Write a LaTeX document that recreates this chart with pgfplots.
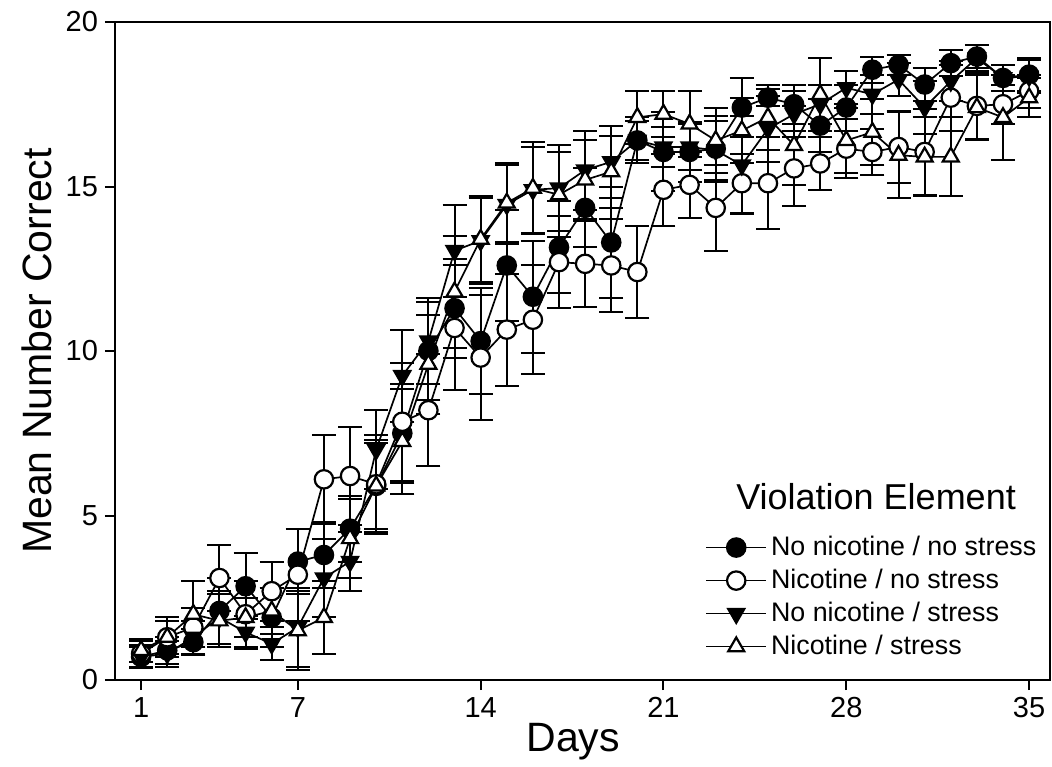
\documentclass[border=0pt]{standalone}
\usepackage{fontspec}
\setmainfont{Liberation Sans}
\usepackage{pgfplots}
\pgfplotsset{compat=1.18}
\pgfplotstableread{
d m e
1 0.7 0.35
2 0.9 0.4
3 1.15 0.4
4 2.1 1.0
5 2.85 1.0
6 1.9 0.9
7 3.6 1.0
8 3.8 1.0
9 4.6 1.0
10 5.9 1.4
11 7.5 1.5
12 10.0 1.5
13 11.3 1.5
14 10.3 1.6
15 12.6 1.7
16 11.65 1.7
17 13.15 1.4
18 14.35 1.2
19 13.3 1.7
20 16.4 0.7
21 16.05 1.2
22 16.05 0.9
23 16.15 1.0
24 17.4 0.9
25 17.7 0.25
26 17.5 0.6
27 16.85 0.8
28 17.4 0.7
29 18.55 0.4
30 18.7 0.3
31 18.1 0.5
32 18.75 0.4
33 18.95 0.35
34 18.3 0.4
35 18.4 0.5
}\tA
\pgfplotstableread{
d m e
1 0.8 0.4
2 1.3 0.6
3 1.6 0.6
4 3.1 1.0
5 2.0 1.0
6 2.7 0.9
7 3.2 1.4
8 6.1 1.35
9 6.2 1.5
10 5.95 1.5
11 7.85 1.8
12 8.2 1.7
13 10.7 1.9
14 9.8 1.9
15 10.65 1.7
16 10.95 1.65
17 12.7 1.4
18 12.65 1.3
19 12.6 1.4
20 12.4 1.4
21 14.9 1.1
22 15.05 1.0
23 14.35 1.3
24 15.1 0.9
25 15.1 1.4
26 15.55 1.15
27 15.7 0.8
28 16.15 0.9
29 16.05 0.7
30 16.2 1.1
31 16.05 1.3
32 17.7 1.0
33 17.45 1.0
34 17.5 0.6
35 17.9 0.5
}\tB
\pgfplotstableread{
d m e
1 0.7 0.3
2 0.8 0.4
3 1.3 0.5
4 1.9 0.8
5 1.45 0.5
6 1.1 0.5
7 1.6 1.2
8 3.1 1.2
9 3.6 0.9
10 7.0 1.2
11 9.25 1.4
12 10.3 1.3
13 13.05 1.4
14 13.35 1.3
15 14.45 1.2
16 14.9 1.3
17 14.95 1.3
18 15.5 1.2
19 15.75 1.1
20 16.4 0.6
21 16.2 0.6
22 16.2 0.7
23 16.1 0.9
24 15.65 1.5
25 16.75 1.0
26 17.2 0.7
27 17.5 0.6
28 18.0 0.5
29 17.8 0.6
30 18.25 0.5
31 17.4 0.8
32 18.2 0.6
33 18.9 0.4
34 18.3 0.4
35 18.35 0.5
}\tC
\pgfplotstableread{
d m e
1 0.9 0.35
2 1.3 0.5
3 2.0 1.0
4 1.8 0.8
5 1.9 0.6
6 2.1 0.7
7 1.5 1.2
8 1.9 1.1
9 4.3 1.2
10 5.9 1.3
11 7.25 1.6
12 9.6 1.5
13 11.8 1.7
14 13.4 1.3
15 14.5 1.2
16 14.95 1.4
17 14.75 1.3
18 15.2 1.2
19 15.45 1.1
20 17.1 0.8
21 17.2 0.7
22 16.9 1.0
23 16.4 1.0
24 16.7 1.0
25 17.1 1.0
26 16.25 1.2
27 17.8 1.1
28 16.4 1.0
29 16.65 1.0
30 15.95 1.3
31 15.9 1.2
32 15.9 1.2
33 17.4 1.0
34 17.1 1.3
35 17.7 0.6
}\tD
\begin{document}
\begin{tikzpicture}
\begin{axis}[name=ax, scale only axis, width=467.5pt, height=329pt,
  xmin=0, xmax=35.8, ymin=0, ymax=20,
  xtick={1,7,14,21,28,35}, ytick={0,5,10,15,20},
  tick align=outside, tick pos=left, major tick length=5pt,
  axis line style={line width=1pt},
  every tick/.style={black, line width=1pt},
  /pgf/number format/assume math mode=true,
  ticklabel style={font=\fontsize{14.5}{16}\selectfont},
  xlabel={Days}, ylabel={Mean Number Correct},
  label style={font=\fontsize{20.5}{24}\selectfont},
  xlabel style={at={(axis description cs:0.49,-0.0942)}, anchor=center},
  ylabel style={at={(axis description cs:-0.0834,0.5)}, anchor=center},
  legend style={at={(0.631,0.225)}, anchor=north west, draw=none, fill=none,
    font=\fontsize{13.4}{15.5}\selectfont, inner sep=0pt, row sep=1.3pt,
    /tikz/every even column/.append style={column sep=4pt}},
  legend cell align=left,
  legend image code/.code={\draw[mark repeat=2,mark phase=2] plot coordinates {(0pt,0pt)(15pt,0pt)(30pt,0pt)};},
  every axis plot/.append style={black, line width=0.85pt,
    mark size=4.6pt,
    error bars/y dir=both, error bars/y explicit,
    error bars/error bar style={line width=1pt, black},
    error bars/error mark options={rotate=90, mark size=6pt, line width=1pt, black}},
]
\addplot[mark=*, mark options={fill=black, line width=1.1pt}] table[x=d, y=m, y error=e] {\tA};
\addlegendentry{No nicotine / no stress}
\addplot[mark=*, mark options={fill=white, line width=1.1pt}] table[x=d, y=m, y error=e] {\tB};
\addlegendentry{Nicotine / no stress}
\addplot[mark=triangle*, mark options={rotate=180, fill=black, line width=1.1pt}] table[x=d, y=m, y error=e] {\tC};
\addlegendentry{No nicotine / stress}
\addplot[mark=triangle*, mark options={fill=white, line width=1.1pt}] table[x=d, y=m, y error=e] {\tD};
\addlegendentry{Nicotine / stress}
\node[font=\fontsize{18}{21}\selectfont] at (rel axis cs:0.814,0.278) {Violation Element};
\end{axis}
\pgfresetboundingbox
\path ([xshift=-57.5pt,yshift=-43pt]ax.south west) rectangle ([xshift=1pt,yshift=11pt]ax.north east);
\end{tikzpicture}
\end{document}
